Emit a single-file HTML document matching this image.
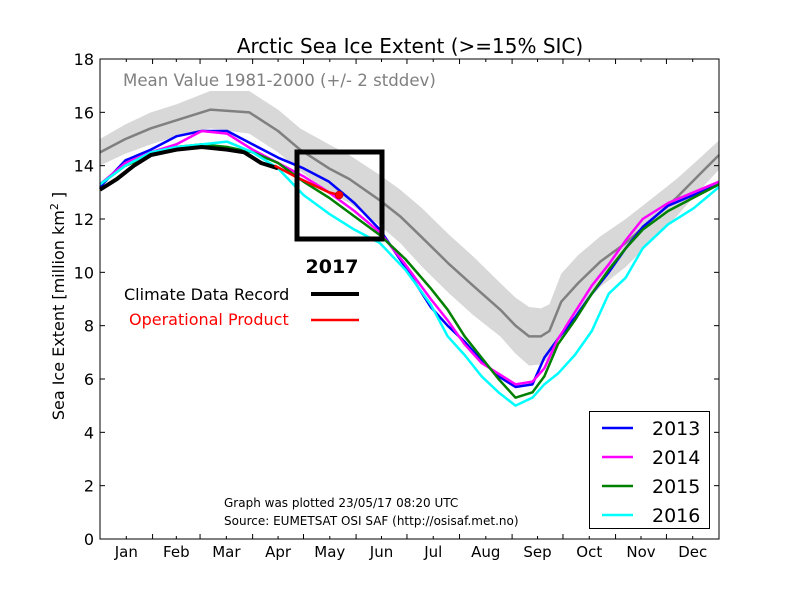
<!DOCTYPE html>
<html><head><meta charset="utf-8"><style>
body{margin:0;background:#fff;}
svg{display:block;font-family:"DejaVu Sans","Liberation Sans",sans-serif;}
</style></head><body>
<svg id="c" width="800" height="600">
<rect width="800" height="600" fill="#fff"/>
<g id="plot"></g>
<text x="410" y="53" text-anchor="middle" font-size="20">Arctic Sea Ice Extent (&gt;=15% SIC)</text>
<text x="123" y="86" font-size="16.6" fill="#808080">Mean Value 1981-2000 (+/- 2 stddev)</text>
<text transform="translate(64,306) rotate(-90)" text-anchor="middle" font-size="16">Sea Ice Extent [million km<tspan dy="-6" font-size="11">2</tspan><tspan dy="6"> ]</tspan></text>
<text x="332" y="273" text-anchor="middle" font-size="19" font-weight="bold">2017</text>
<text x="124" y="300" font-size="16">Climate Data Record</text>
<line x1="311" x2="359" y1="294" y2="294" stroke="#000" stroke-width="4"/>
<text x="129" y="325" font-size="16" fill="#ff0000">Operational Product</text>
<line x1="311" x2="359" y1="320" y2="320" stroke="#ff0000" stroke-width="2.5"/>
<text x="224" y="507" font-size="12">Graph was plotted 23/05/17 08:20 UTC</text>
<text x="224" y="525" font-size="12">Source: EUMETSAT OSI SAF (http://osisaf.met.no)</text>
<g>
<rect x="589.5" y="411.5" width="120" height="117" fill="#fff" stroke="#000"/>
<line x1="602" x2="633" y1="428" y2="428" stroke="#0000ff" stroke-width="2.5"/><text x="652" y="435" font-size="19">2013</text>
<line x1="602" x2="633" y1="457" y2="457" stroke="#ff00ff" stroke-width="2.5"/><text x="652" y="464" font-size="19">2014</text>
<line x1="602" x2="633" y1="486" y2="486" stroke="#008000" stroke-width="2.5"/><text x="652" y="493" font-size="19">2015</text>
<line x1="602" x2="633" y1="515" y2="515" stroke="#00ffff" stroke-width="2.5"/><text x="652" y="522" font-size="19">2016</text>
</g>
</svg>
<script>
const monthNames=["Jan","Feb","Mar","Apr","May","Jun","Jul","Aug","Sep","Oct","Nov","Dec"];
const monthStarts=[0,31,59,90,120,151,181,212,243,273,304,334];
const yTicks=[0,2,4,6,8,10,12,14,16,18];
const meanDays=[0,15,30,45,65,88,105,118,135,147,165,177,190,206,220,236,245,253,260,265,272,282,295,310,324,340,354,365];
const meanVals=[14.5,15.0,15.4,15.7,16.1,16.0,15.3,14.6,13.9,13.5,12.7,12.1,11.3,10.3,9.5,8.6,8.0,7.6,7.6,7.8,8.9,9.6,10.4,11.1,11.9,12.8,13.7,14.4];
const bandHalf=[0.5,0.55,0.6,0.6,0.7,0.8,0.8,0.8,0.9,0.9,0.95,1.0,1.1,1.1,1.1,1.0,1.05,1.1,1.05,1.0,1.05,1.05,0.95,0.9,0.8,0.7,0.6,0.55];
const days=[0,15,30,45,60,75,90,105,120,135,150,165,180,195,205,215,225,235,245,255,262,270,280,290,300,310,320,335,350,365];
const s2013=[13.2,14.2,14.6,15.1,15.3,15.3,14.8,14.3,13.9,13.4,12.6,11.6,10.2,8.7,8.0,7.4,6.7,6.1,5.7,5.8,6.8,7.5,8.3,9.2,10.0,10.9,11.7,12.5,12.9,13.3];
const s2014=[13.3,14.1,14.5,14.8,15.3,15.2,14.6,14.1,13.6,13.0,12.3,11.5,10.3,9.0,8.2,7.3,6.6,6.2,5.8,5.9,6.4,7.5,8.5,9.5,10.3,11.2,12.0,12.6,13.0,13.4];
const s2015=[13.3,14.0,14.4,14.7,14.8,14.7,14.5,14.1,13.4,12.8,12.1,11.4,10.5,9.4,8.6,7.6,6.8,6.0,5.3,5.5,6.1,7.3,8.2,9.2,10.1,10.9,11.6,12.3,12.8,13.3];
const s2016=[13.3,14.0,14.5,14.7,14.8,14.9,14.5,13.9,12.9,12.2,11.6,11.1,10.1,8.8,7.6,6.9,6.1,5.5,5.0,5.3,5.8,6.2,6.9,7.8,9.2,9.8,10.9,11.8,12.4,13.2];
const d2017=[0,10,20,30,45,60,75,85,95,105];
const s2017=[13.1,13.5,14.0,14.4,14.6,14.7,14.6,14.5,14.1,13.9];
const dOp=[103,115,125,135,141];
const sOp=[14.0,13.6,13.3,13.0,12.9];
const L=100,R=719,T=59,B=539;
const X=d=>L+d*(R-L)/365, Y=v=>B-v*(B-T)/18;
const NS="http://www.w3.org/2000/svg";
const g=document.getElementById('plot');
function el(t,a,p){const e=document.createElementNS(NS,t);for(const k in a)e.setAttribute(k,a[k]);(p||g).appendChild(e);return e;}
function txt(s,a){const e=el('text',a);e.textContent=s;return e;}
let pts=meanDays.map((d,i)=>X(d)+','+Y(meanVals[i]+bandHalf[i]));
pts=pts.concat(meanDays.map((d,i)=>X(d)+','+Y(meanVals[i]-bandHalf[i])).reverse());
const band=el('polygon',{points:pts.join(' '),fill:'#d8d8d8'});


function line(ds,vs,col,w,name){const p=el('polyline',{points:ds.map((d,i)=>X(d)+','+Y(vs[i])).join(' '),fill:'none',stroke:col,'stroke-width':w,'stroke-linejoin':'round'});

return p;}
line(meanDays,meanVals,'#808080',2.5,'mean-line');
line(days,s2013,'#0000ff',2.5,'line-2013');
line(days,s2014,'#ff00ff',2.5,'line-2014');
line(days,s2015,'#008000',2.5,'line-2015');
line(days,s2016,'#00ffff',2.5,'line-2016');
line(d2017,s2017,'#000',4,'line-2017-cdr');
line(dOp,sOp,'#ff0000',2.5,'line-2017-operational');
const dot=el('circle',{cx:X(dOp[dOp.length-1]),cy:Y(sOp[sOp.length-1]),r:4,fill:'#ff0000',stroke:'#800',"stroke-width":0.5});


const hb=el('rect',{x:297,y:152,width:85,height:87,fill:'none',stroke:'#000','stroke-width':5});


const fr=el('rect',{x:L,y:T,width:R-L,height:B-T,fill:'none',stroke:'#000','stroke-width':1});


yTicks.forEach(v=>{const y=Y(v);el('line',{x1:L,x2:L+5,y1:y,y2:y,stroke:'#000'});el('line',{x1:R-5,x2:R,y1:y,y2:y,stroke:'#000'});
const t=txt(v,{x:L-6,y:y+6,'text-anchor':'end','font-size':16});

});
monthStarts.forEach((d,i)=>{if(i>0){const x=X(d);el('line',{x1:x,x2:x,y1:B,y2:B-5,stroke:'#000'});el('line',{x1:x,x2:x,y1:T,y2:T+5,stroke:'#000'});}
const end=i<11?monthStarts[i+1]:365;const xc=X((d+end)/2);
el('line',{x1:xc,x2:xc,y1:B,y2:B-3,stroke:'#000'});el('line',{x1:xc,x2:xc,y1:T,y2:T+3,stroke:'#000'});
const t=txt(monthNames[i],{x:xc,y:B+18,'text-anchor':'middle','font-size':15});

});
</script>
</body></html>
